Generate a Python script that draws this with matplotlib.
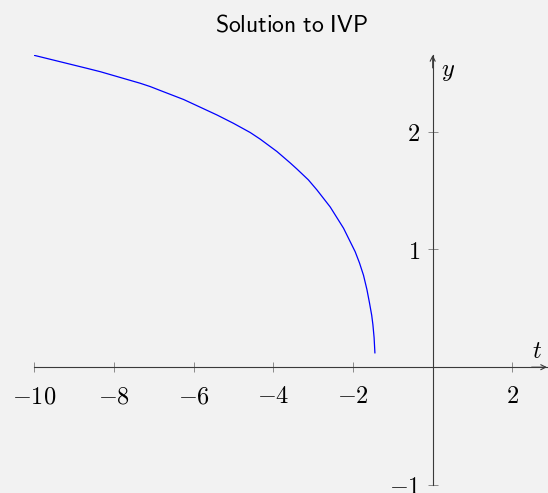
import matplotlib
matplotlib.use("Agg")
import matplotlib.pyplot as plt

plt.rcParams['mathtext.fontset'] = 'cm'

# solution curve sampled along t
t_vals = [-10.0, -8.68, -8.34, -7.34, -7.09, -6.84, -6.25, -5.415, -5.0, -4.58,
          -4.33, -3.91, -3.58, -3.41, -3.12, -2.906, -2.572, -2.238, -1.945,
          -1.837, -1.736, -1.651, -1.586, -1.53, -1.50, -1.47, -1.45]
y_vals = [2.647, 2.537, 2.508, 2.41, 2.382, 2.349, 2.272, 2.141, 2.07, 1.992,
          1.936, 1.831, 1.735, 1.683, 1.59, 1.505, 1.36, 1.18, 0.98,
          0.885, 0.78, 0.66, 0.546, 0.44, 0.36, 0.25, 0.122]

x_ticks = [-10, -8, -6, -4, -2, 2]
y_ticks = [-1, 1, 2]

W, H = 548, 493
bg = '#f2f2f2'
axis_col = '#3a3a3a'

fig = plt.figure(figsize=(W / 100, H / 100), dpi=100, facecolor=bg)
ax = fig.add_axes([34.3 / W, 8 / H, (547 - 34.3) / W, (485 - 55) / H])
ax.set_facecolor(bg)

ax.plot(t_vals, y_vals, color='#0000ff', lw=0.9, solid_joinstyle='round')

ax.set_xlim(-10, 2.87)
ax.set_ylim(-1, 2.65)

# axis lines through the origin
for side in ['top', 'right']:
    ax.spines[side].set_visible(False)
ax.spines['left'].set_position(('data', 0))
ax.spines['bottom'].set_position(('data', 0))
for side in ['left', 'bottom']:
    ax.spines[side].set_color(axis_col)
    ax.spines[side].set_linewidth(0.8)

# arrow heads
ax.annotate('', xy=(1.0, 0), xycoords=('axes fraction', 'data'),
            xytext=(0.97, 0), textcoords=('axes fraction', 'data'),
            arrowprops=dict(arrowstyle='->', color=axis_col, lw=0.8,
                            shrinkA=0, shrinkB=0, mutation_scale=9))
ax.annotate('', xy=(0, 1.0), xycoords=('data', 'axes fraction'),
            xytext=(0, 0.97), textcoords=('data', 'axes fraction'),
            arrowprops=dict(arrowstyle='->', color=axis_col, lw=0.8,
                            shrinkA=0, shrinkB=0, mutation_scale=9))

ax.set_xticks(x_ticks, labels=[r'$%d$' % v for v in x_ticks])
ax.set_yticks(y_ticks, labels=[r'$%d$' % v for v in y_ticks])
ax.tick_params(axis='both', direction='inout', length=6.5, width=0.7,
               color='#8a8a8a', labelsize=17.5, labelcolor='black')
ax.tick_params(axis='x', pad=9)
ax.tick_params(axis='y', pad=6)

# axis labels
fig.text(537 / W, 1 - 351 / H, r'$t$', fontsize=17.5, ha='center', va='center')
fig.text(448 / W, 1 - 71 / H, r'$y$', fontsize=17.5, ha='center', va='center')

fig.text(291 / W, 1 - 31 / H, r'$\mathsf{Solution\ to\ IVP}$', fontsize=17,
         ha='center', va='baseline')

fig.savefig('out.png', dpi=100, facecolor=bg)
